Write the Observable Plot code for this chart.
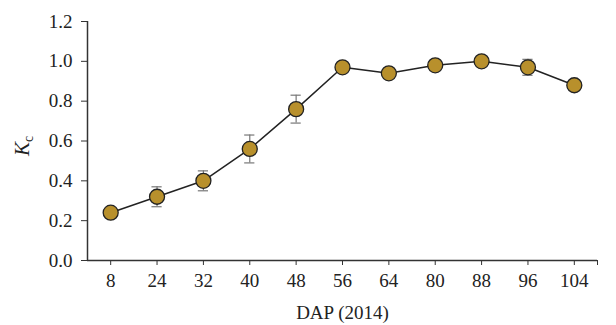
<!DOCTYPE html>
<html>
<head>
<meta charset="utf-8">
<script src="https://cdn.jsdelivr.net/npm/d3@7"></script>
<script src="https://cdn.jsdelivr.net/npm/@observablehq/plot@0.6"></script>
<style>
  html, body { margin: 0; padding: 0; background: #fff; }
  svg { display: block; }
</style>
</head>
<body>
<div id="chart"></div>
<script>
const dapLabels = ["8", "24", "32", "40", "48", "56", "64", "80", "88", "96", "104"];
const kcValues  = [0.24, 0.32, 0.40, 0.56, 0.76, 0.97, 0.94, 0.98, 1.00, 0.97, 0.88];
const kcErrors  = [0.00, 0.05, 0.05, 0.07, 0.07, 0.00, 0.00, 0.00, 0.00, 0.04, 0.00];
const yTicks    = [0, 0.2, 0.4, 0.6, 0.8, 1.0, 1.2];

const data = dapLabels.map((d, i) => ({i, dap: d, kc: kcValues[i], err: kcErrors[i]}));
const errData = data.filter(d => d.err > 0);

const font = "'Liberation Serif', 'DejaVu Serif', serif";
const xTicks = d3.range(dapLabels.length).concat([dapLabels.length - 0.5]);
const capHalf = 0.11;

const chart = Plot.plot({
  width: 616,
  height: 325,
  marginLeft: 87,
  marginRight: 19,
  marginTop: 21,
  marginBottom: 65,
  style: {fontFamily: font, fontSize: "19px", color: "#222", background: "#fff"},
  x: {type: "linear", domain: [-0.5, dapLabels.length - 0.5]},
  y: {domain: [0, 1.2]},
  marks: [
    Plot.axisX({ticks: xTicks, tickFormat: i => dapLabels[i] ?? "", tickSize: 5, tickPadding: 8,
      label: "DAP (2014)", labelAnchor: "center", labelArrow: "none", labelOffset: 58,
      stroke: "#333", fill: "#222", fontSize: 19}),
    Plot.axisY({ticks: yTicks, tickFormat: d => d.toFixed(1), tickSize: 6, tickPadding: 9,
      label: null, stroke: "#333", fill: "#222", fontSize: 19}),
    Plot.ruleY([0], {stroke: "#333", strokeWidth: 1.5}),
    Plot.ruleX([-0.5], {stroke: "#333", strokeWidth: 1.5}),
    Plot.ruleX(errData, {x: "i", y1: d => d.kc - d.err, y2: d => d.kc + d.err, stroke: "#777", strokeWidth: 1.2}),
    Plot.ruleY(errData, {y: d => d.kc + d.err, x1: d => d.i - capHalf, x2: d => d.i + capHalf, stroke: "#777", strokeWidth: 1.2}),
    Plot.ruleY(errData, {y: d => d.kc - d.err, x1: d => d.i - capHalf, x2: d => d.i + capHalf, stroke: "#777", strokeWidth: 1.2}),
    Plot.line(data, {x: "i", y: "kc", stroke: "#222", strokeWidth: 1.5}),
    Plot.dot(data, {x: "i", y: "kc", r: 7.5, fill: "#b8902c", stroke: "#222", strokeWidth: 1.3})
  ]
});
document.getElementById("chart").appendChild(chart);

// y axis label K_c
const svg = d3.select(chart);
const lab = svg.append("text")
  .attr("transform", "translate(29,146) rotate(-90)")
  .attr("text-anchor", "middle")
  .attr("font-family", font)
  .attr("fill", "#222");
lab.append("tspan").attr("font-style", "italic").attr("font-size", 21).text("K");
lab.append("tspan").attr("font-size", 14).attr("dy", 4).text("c");
</script>
</body>
</html>
